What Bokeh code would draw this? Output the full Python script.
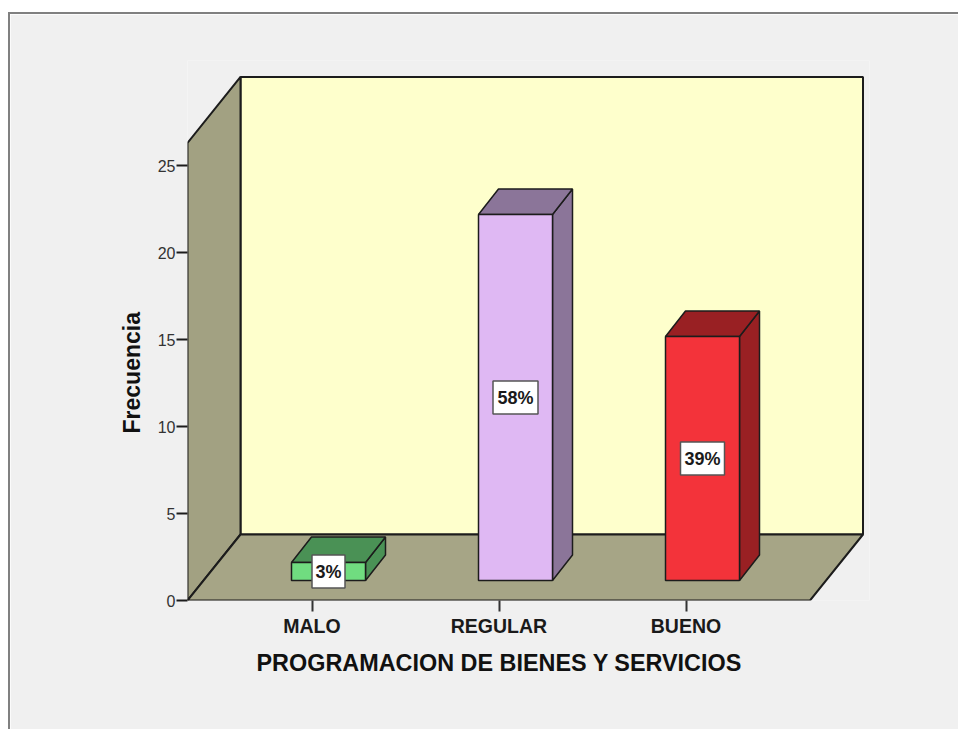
from bokeh.plotting import figure
from bokeh.models import Range1d, FixedTicker, Title
from bokeh.core.properties import value
from bokeh.embed import file_html
from bokeh.resources import INLINE

categories = ["MALO", "REGULAR", "BUENO"]
cat_pos = [1, 2, 3]
bar_tops = [2.18, 22.18, 15.17]
percentages = ["3%", "58%", "39%"]
y_ticks = [0, 5, 10, 15, 20, 25]
x_title = "PROGRAMACION DE BIENES Y SERVICIOS"
y_title = "Frecuencia"

front_colors = ["#70dc80", "#dfb8f3", "#f3333a"]
shade_colors = ["#4a9155", "#8b7599", "#992023"]
box_widths = [33, 45, 44]

PX_X, PX_Y = 187.0, 17.4
bar_base = 1.15
bar_shift = 16.5 / PX_X
bar_half = 37 / PX_X
bar_dx, bar_dy = 20 / PX_X, 25.5 / PX_Y
floor_x0, floor_x1 = 1 - 124.5 / PX_X, 1 + 498 / PX_X
wall_dx, wall_dy = 53 / PX_X, 66 / PX_Y
wall_top = 26.3
INK = "#1c1c1c"
FONT = value("Liberation Sans")
PANEL = "#f0f0f0"

p = figure(width=950, height=717, output_backend="svg", toolbar_location=None,
           x_range=Range1d(floor_x0, floor_x0 + 682 / PX_X),
           y_range=Range1d(0, 540 / PX_Y),
           min_border_left=177, min_border_right=91, min_border_top=46, min_border_bottom=131,
           background_fill_color=PANEL, border_fill_color=PANEL,
           margin=(12, 0, 0, 8),
           styles={"border-left": "2px solid #808080", "border-top": "2px solid #808080"})
p.outline_line_color = None
p.grid.visible = False

# walls and floor
p.patch([floor_x0 + wall_dx, floor_x1 + wall_dx, floor_x1 + wall_dx, floor_x0 + wall_dx],
        [wall_dy, wall_dy, wall_top + wall_dy, wall_top + wall_dy],
        fill_color="#feffcc", line_color=INK, line_width=2)
p.patch([floor_x0, floor_x0 + wall_dx, floor_x0 + wall_dx, floor_x0],
        [0, wall_dy, wall_top + wall_dy, wall_top],
        fill_color="#a2a182", line_color=INK, line_width=2)
p.patch([floor_x0, floor_x1, floor_x1 + wall_dx, floor_x0 + wall_dx],
        [0, 0, wall_dy, wall_dy],
        fill_color="#a6a586", line_color=INK, line_width=2)

# 3-D bars
for c, top, fc, sc in zip(cat_pos, bar_tops, front_colors, shade_colors):
    l, r = c + bar_shift - bar_half, c + bar_shift + bar_half
    p.patch([r, r + bar_dx, r + bar_dx, r], [bar_base, bar_base + bar_dy, top + bar_dy, top],
            fill_color=sc, line_color=INK, line_width=1.5)
    p.patch([l, r, r + bar_dx, l + bar_dx], [top, top, top + bar_dy, top + bar_dy],
            fill_color=sc, line_color=INK, line_width=1.5)
    p.quad(left=l, right=r, bottom=bar_base, top=top,
           fill_color=fc, line_color=INK, line_width=1.5)

# percentage labels
xs = [c + bar_shift for c in cat_pos]
ys = [(t + bar_base) / 2 for t in bar_tops]
p.rect(xs, ys, width=box_widths, height=33, width_units="screen", height_units="screen",
       fill_color="#ffffff", line_color="#555555", line_width=1.5)
p.text(xs, ys, text=percentages, text_font=FONT, text_font_style="bold", text_font_size="18px",
       text_align="center", text_baseline="middle", text_color="#1a1a1a")

# axes
ya = p.yaxis[0]
ya.ticker = FixedTicker(ticks=y_ticks)
ya.bounds = (0, wall_top)
ya.axis_line_color = None
ya.major_tick_in, ya.major_tick_out = 0, 11
ya.minor_tick_line_color = None
ya.major_tick_line_color = INK
ya.major_tick_line_width = 2
ya.major_label_text_font = "Liberation Sans"
ya.major_label_text_font_size = "16px"
ya.major_label_text_color = "#333333"
ya.major_label_standoff = 1

xa = p.xaxis[0]
xa.ticker = FixedTicker(ticks=cat_pos)
xa.major_label_overrides = dict(zip(cat_pos, categories))
xa.axis_line_color = None
xa.major_tick_in, xa.major_tick_out = 0, 11
xa.minor_tick_line_color = None
xa.major_tick_line_color = "#333333"
xa.major_tick_line_width = 2
xa.major_label_text_font = "Liberation Sans"
xa.major_label_text_font_style = "bold"
xa.major_label_text_font_size = "19.5px"
xa.major_label_text_color = "#1a1a1a"
xa.major_label_standoff = 3

p.add_layout(Title(text=x_title, align="left", offset=69, standoff=16, text_font="Liberation Sans",
                   text_font_style="bold", text_font_size="23.4px", text_color="#111111"), "below")
p.add_layout(Title(text=y_title, align="left", offset=167, standoff=19, text_font="Liberation Sans",
                   text_font_style="bold", text_font_size="23px", text_color="#111111"), "left")

open("out.html", "w").write(file_html(p, INLINE))
